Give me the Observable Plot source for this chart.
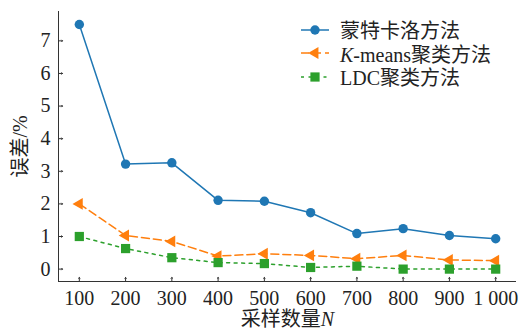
<!DOCTYPE html>
<html>
<head>
<meta charset="utf-8">
<script src="https://cdn.jsdelivr.net/npm/d3@7"></script>
<script src="https://cdn.jsdelivr.net/npm/@observablehq/plot@0.6"></script>
<style>
  body { margin: 0; background: #fff; }
  #chart {
    position: relative; width: 521px; height: 330px;
    font-family: "Liberation Serif", "Noto Sans CJK SC", serif; color: #222;
  }
  .legend { position: absolute; left: 301px; top: 18px; font-size: 20px; }
  .legend .row { display: flex; align-items: center; height: 23.5px; white-space: nowrap; }
  .legend svg { margin-right: 11px; flex: none; }
</style>
</head>
<body>
<div id="chart"></div>
<script>
// Sample sizes N and the error (%) of each method
const sampleSizes = [100, 200, 300, 400, 500, 600, 700, 800, 900, 1000];
const xTickLabels = ["100", "200", "300", "400", "500", "600", "700", "800", "900", "1 000"];
const monteCarlo = [7.50, 3.22, 3.26, 2.11, 2.08, 1.73, 1.09, 1.24, 1.03, 0.93];
const kmeans     = [2.00, 1.03, 0.85, 0.40, 0.47, 0.42, 0.32, 0.42, 0.28, 0.26];
const ldc        = [1.00, 0.63, 0.35, 0.20, 0.17, 0.05, 0.09, 0.00, 0.00, 0.00];
const seriesNames = ["蒙特卡洛方法", "K-means聚类方法", "LDC聚类方法"];
const yTicks = [0, 1, 2, 3, 4, 5, 6, 7];
const xTitle = "采样数量N";
const yTitle = "误差/%";

const xDomain = [55, 1045];
const yDomain = [-0.38, 7.9];

const styles = [
  {color: "#1f77b4", dash: null,  symbol: "circle",   r: 4.7, rotate: 0},
  {color: "#ff7f0e", dash: "8,4", symbol: "triangle", r: 4.4, rotate: -90},
  {color: "#2ca02c", dash: "3,4.5", symbol: "square", r: 5.2, rotate: 0}
];

const seriesValues = [monteCarlo, kmeans, ldc];
const series = seriesValues.map((vals, k) =>
  sampleSizes.map((n, i) => ({n, err: vals[i], name: seriesNames[k]})));

const marks = [
  // left and bottom spines
  Plot.ruleX([xDomain[0]], {stroke: "#333", strokeWidth: 1}),
  Plot.ruleY([yDomain[0]], {stroke: "#333", strokeWidth: 1}),
  // inward tick marks
  Plot.vector(sampleSizes, {x: d => d, frameAnchor: "bottom", length: 4, rotate: 0, anchor: "start", stroke: "#333", strokeWidth: 1}),
  Plot.vector(yTicks, {y: d => d, frameAnchor: "left", length: 4, rotate: 90, anchor: "start", stroke: "#333", strokeWidth: 1}),
  Plot.axisX({ticks: sampleSizes, tickFormat: (d, i) => xTickLabels[sampleSizes.indexOf(d)], tickSize: 0, tickPadding: 9, label: null}),
  Plot.axisY({ticks: yTicks, tickSize: 0, tickPadding: 8, label: null}),
  Plot.text([xTitle], {frameAnchor: "bottom", dy: 38, lineAnchor: "middle", textAnchor: "middle", text: d => d, fontSize: 20}),
  Plot.text([yTitle], {frameAnchor: "left", dx: -38, rotate: -90, lineAnchor: "middle", textAnchor: "middle", text: d => d, fontSize: 20})
];

series.forEach((data, k) => {
  const s = styles[k];
  marks.push(Plot.line(data, {x: "n", y: "err", stroke: s.color, strokeWidth: 1.5, strokeDasharray: s.dash}));
});
series.forEach((data, k) => {
  const s = styles[k];
  marks.push(Plot.dot(data, {x: "n", y: "err", fill: s.color, symbol: s.symbol, r: s.r, rotate: s.rotate}));
});

const chart = Plot.plot({
  width: 521,
  height: 330,
  marginLeft: 58,
  marginRight: 5,
  marginTop: 11,
  marginBottom: 49,
  style: {fontSize: "20px", fontFamily: "'Liberation Serif', 'Noto Sans CJK SC', serif", color: "#222", background: "#fff"},
  x: {type: "linear", domain: xDomain},
  y: {domain: yDomain},
  marks
});

// italic N in the axis title
d3.select(chart).selectAll("text").filter(function() { return this.textContent === xTitle; })
  .each(function() {
    const t = d3.select(this);
    t.text(null);
    t.append("tspan").text(xTitle.slice(0, -1));
    t.append("tspan").attr("font-style", "italic").text(xTitle.slice(-1));
  });

const root = document.getElementById("chart");
root.appendChild(chart);

// legend
const legend = document.createElement("div");
legend.className = "legend";
const symbolPath = (s) => d3.symbol(
  s.symbol === "circle" ? d3.symbolCircle : s.symbol === "triangle" ? d3.symbolTriangle : d3.symbolSquare,
  Math.PI * s.r * s.r)();
seriesNames.forEach((name, k) => {
  const s = styles[k];
  const row = document.createElement("div");
  row.className = "row";
  const label = name.startsWith("K-") ? `<i>K</i>${name.slice(1)}` : name;
  row.innerHTML =
    `<svg width="28" height="14" viewBox="0 0 28 14">
       <line x1="0" x2="28" y1="7" y2="7" stroke="${s.color}" stroke-width="1.5" ${s.dash ? `stroke-dasharray="${s.dash}"` : ""}/>
       <path d="${symbolPath(s)}" transform="translate(14,7) rotate(${s.rotate})" fill="${s.color}"/>
     </svg><span>${label}</span>`;
  legend.appendChild(row);
});
root.appendChild(legend);
</script>
</body>
</html>
